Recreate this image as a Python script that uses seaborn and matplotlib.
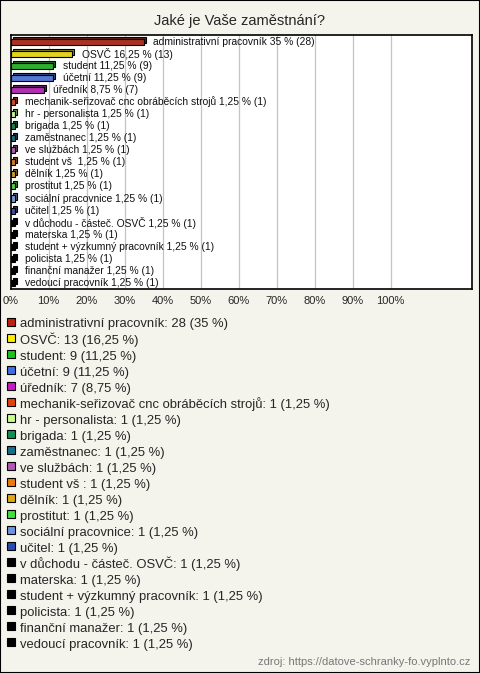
import seaborn as sns
import matplotlib.pyplot as plt
import matplotlib.transforms as mtransforms
from matplotlib.lines import Line2D
from matplotlib.patches import Rectangle
import pandas as pd

sns.set_style("white")
plt.rcParams["font.family"] = ["Liberation Sans", "DejaVu Sans"]

# data
categories = [
    "administrativní pracovník", "OSVČ", "student", "účetní", "úředník",
    "mechanik-seřizovač cnc obráběcích strojů", "hr - personalista", "brigada",
    "zaměstnanec", "ve službách", "student vš ", "dělník", "prostitut",
    "sociální pracovnice", "učitel", "v důchodu - částeč. OSVČ", "materska",
    "student + výzkumný pracovník", "policista", "finanční manažer",
    "vedoucí pracovník",
]
counts = [28, 13, 9, 9, 7, 1, 1, 1, 1, 1, 1, 1, 1, 1, 1, 1, 1, 1, 1, 1, 1]
percents = [35, 16.25, 11.25, 11.25, 8.75] + [1.25] * 16
colors = [
    "#c0200f", "#ffee00", "#19c319", "#3f6fe6", "#c719c7", "#e8400c",
    "#c8ff8c", "#0f9050", "#15708c", "#b455b8", "#ee7a0a", "#e0a810",
    "#3ee03a", "#6e94e0", "#2a4ab0",
] + ["#000000"] * 6
title = "Jaké je Vaše zaměstnání?"
source = "zdroj: https://datove-schranky-fo.vyplnto.cz"

def fmt(v):
    return f"{v:g}".replace(".", ",")

df = pd.DataFrame({"cat": categories, "pct": percents, "n": counts})

fig = plt.figure(figsize=(4.8, 6.73), dpi=100, facecolor="#f4f3ec")
fig.patches.append(Rectangle((0, 0), 1, 1, transform=fig.transFigure,
                             fill=False, edgecolor="black", linewidth=1.5))

W, H = 480, 673
ax = fig.add_axes([10.5 / W, 1 - 289 / H, 461.5 / W, 254 / H])
ax.set_facecolor("white")

pal = dict(zip(categories, colors))

# depth of the bars (same bars, shifted up-right and darker)
sns.barplot(data=df, x="pct", y="cat", hue="cat", palette=pal, orient="h",
            width=0.5, edgecolor="black", linewidth=0.8, legend=False, ax=ax)
shift = mtransforms.ScaledTranslation(2 / 100, 2 / 100, fig.dpi_scale_trans)
for p in ax.patches:
    p.set_transform(ax.transData + shift)
    fc = p.get_facecolor()
    p.set_facecolor((fc[0] * 0.6, fc[1] * 0.6, fc[2] * 0.6, 1))

# front face of the bars
sns.barplot(data=df, x="pct", y="cat", hue="cat", palette=pal, orient="h",
            width=0.5, edgecolor="black", linewidth=0.8, legend=False, ax=ax)

for i, row in df.iterrows():
    ax.annotate(f"{row['cat']} {fmt(row['pct'])} % ({row['n']})",
                xy=(row["pct"], i), xytext=(7, 0), textcoords="offset points",
                va="center", ha="left", fontsize=7.4, color="#111111")

ax.set_xlim(0, 121.4)
ax.set_ylim(len(categories) - 0.5, -0.55)
ax.set_xticks(range(0, 101, 10))
ax.set_xticklabels([f"{t}%" for t in range(0, 101, 10)], fontsize=8)
ax.tick_params(axis="x", length=0, pad=5)
ax.set_yticks([])
ax.set_xlabel("")
ax.set_ylabel("")
for t in range(10, 101, 10):
    ax.axvline(t, color="#c4c4c4", linewidth=0.9, zorder=0)
for s in ax.spines.values():
    s.set_color("black")
    s.set_linewidth(1.2)

fig.text(0.5, 1 - 21 / H, title, ha="center", va="center", fontsize=10.5)

handles = [Line2D([], [], linestyle="none", marker="s", markersize=6.4,
                  markerfacecolor=c, markeredgecolor="black", markeredgewidth=0.8)
           for c in colors]
labels = [f"{c}: {n} ({fmt(p)} %)" for c, n, p in zip(categories, counts, percents)]
fig.legend(handles, labels, loc="upper left", bbox_to_anchor=(7 / W, 1 - 316 / H),
           frameon=False, fontsize=9.4, handlelength=0.65, handleheight=1.22,
           handletextpad=0.35, labelspacing=0.14, borderpad=0, borderaxespad=0)

fig.text(1 - 10 / W, 1 - 662 / H, source, ha="right", va="center",
         fontsize=8, color="#777777")

plt.savefig("out.png", dpi=100, facecolor=fig.get_facecolor())
plt.close()
